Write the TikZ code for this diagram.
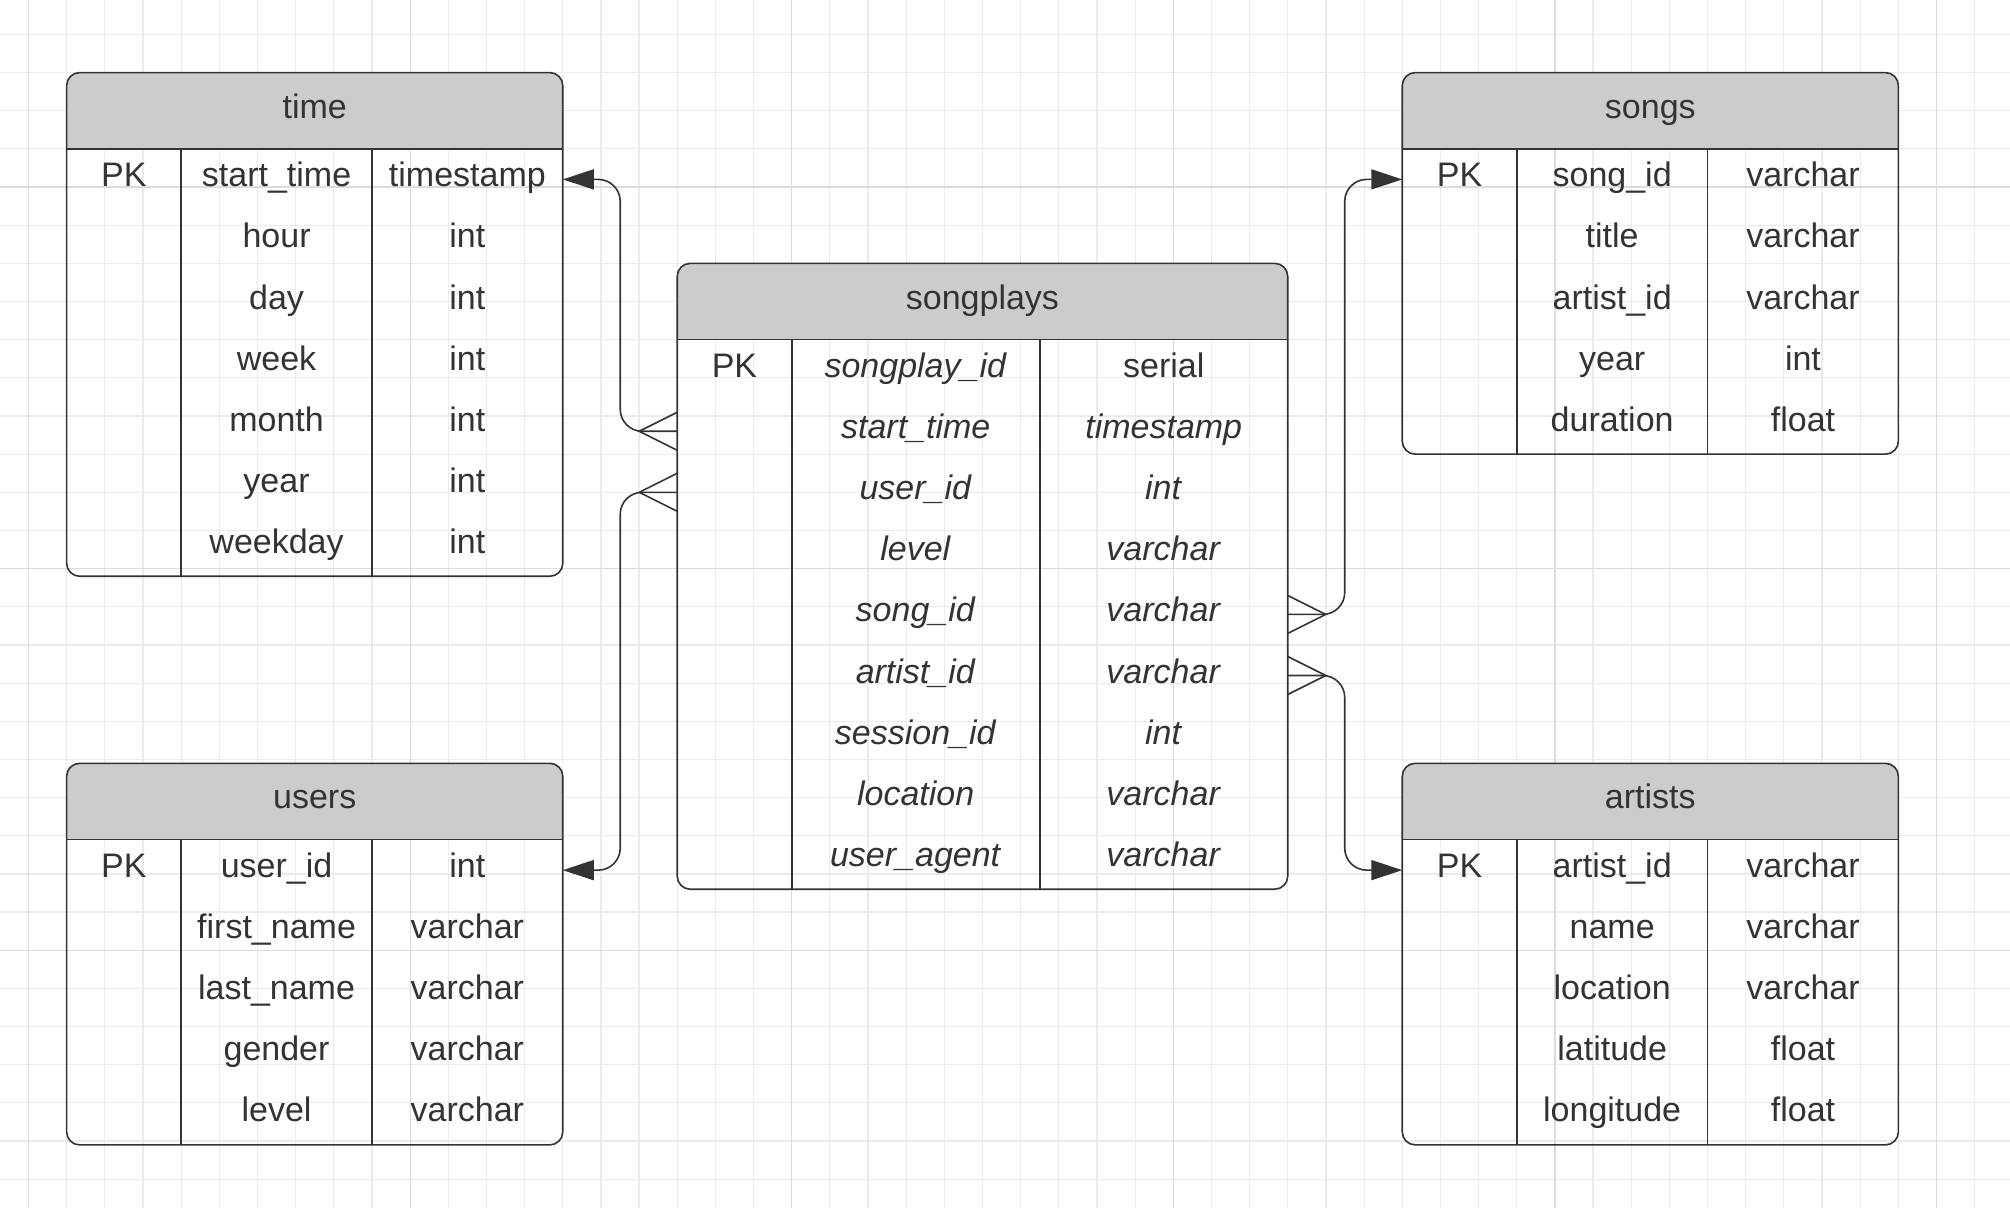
\documentclass[tikz,border=0pt]{standalone}
\usepackage{fontspec}
\setmainfont{Liberation Sans}
\usetikzlibrary{positioning,arrows.meta}

\definecolor{ink}{HTML}{333333}
\definecolor{headgray}{HTML}{CCCCCC}
\definecolor{gridminor}{HTML}{EBEBEB}
\definecolor{gridmajor}{HTML}{DCDCDC}

\tikzset{
  cell/.style={inner sep=0pt, outer sep=0pt, text=ink,
    font=\fontsize{34}{40}\selectfont, text height=24pt, text depth=9pt,
    minimum height=\rowh},
  headcell/.style={cell, minimum height=\headh},
  frame/.style={draw=ink, line width=1.6pt},
  crowline/.style={draw=ink, line width=1.6pt, line join=miter},
  link/.style={draw=ink, line width=1.6pt, rounded corners=22pt},
  fkarrow/.style={-{Triangle[length=31pt,width=20pt]}},
  gridline/.style={draw=gridminor, line width=1.2pt},
  majorline/.style={draw=gridmajor, line width=1.2pt},
}

% table: name, x, y, column widths (3), title, rows pk/field/type
\newcommand{\erdtable}[8]{%
  \pgfmathsetmacro{\tw}{#4+#5+#6}
  \begin{scope}
    \clip[rounded corners=\cornerr] (#2,#3) rectangle ++(\tw,300);
    \fill[headgray] (#2,#3) rectangle ++(\tw,\headh);
  \end{scope}
  \node[headcell, minimum width=\tw, anchor=north west] (#1-h) at (#2,#3) {#7};
  \foreach \pk/\fname/\ftype [count=\row] in {#8} {
    \pgfmathtruncatemacro{\prev}{\row-1}
    \ifnum\row=1
      \node[cell, minimum width=#4, anchor=north west] (#1-\row-1) at (#1-h.south west) {\pk};
    \else
      \node[cell, minimum width=#4, below=0pt of #1-\prev-1] (#1-\row-1) {\pk};
    \fi
    \node[cell, minimum width=#5, right=0pt of #1-\row-1] (#1-\row-2) {\fname};
    \node[cell, minimum width=#6, right=0pt of #1-\row-2] (#1-\row-3) {\ftype};
    \xdef\nrows{\row}
  }
  \draw[frame, rounded corners=\cornerr] (#1-h.north west) rectangle (#1-\nrows-3.south east);
  \draw[frame] (#1-h.south west) -- (#1-h.south east);
  \draw[frame] (#1-1-1.north east) -- (#1-\nrows-1.south east);
  \draw[frame] (#1-1-2.north east) -- (#1-\nrows-2.south east);
}

% many end: anchor on the table edge, length (sign gives side)
\newcommand{\crowsfoot}[2]{%
  \draw[crowline] ([shift={(0,-19)}]#1) -- ([shift={(#2,0)}]#1) -- ([shift={(0,19)}]#1);
}

\begin{document}
\begin{tikzpicture}[x=1pt, y=-1pt]
      \pgfmathsetmacro{\gridstep}{38.16};
      \pgfmathsetmacro{\rowh}{61.06};
      \pgfmathsetmacro{\headh}{76.3};
      \pgfmathsetmacro{\cornerr}{13};

      \useasboundingbox[fill=white] (0,0) rectangle (2010,1208);

      % background grid
      \foreach \i in {0,...,51}
        \draw[gridline] (28.5+\i*\gridstep, 0) -- (28.5+\i*\gridstep, 1208);
      \foreach \j in {0,...,30}
        \draw[gridline] (0, 34.4+\j*\gridstep) -- (2010, 34.4+\j*\gridstep);
      \foreach \i in {0,10,...,50}
        \draw[majorline] (28.5+\i*\gridstep, 0) -- (28.5+\i*\gridstep, 1208);
      \foreach \j in {4,14,24}
        \draw[majorline] (0, 34.4+\j*\gridstep) -- (2010, 34.4+\j*\gridstep);

      \erdtable{time}{66.66}{72.56}{114.5}{190.8}{190.8}{time}
        {PK/start\_time/timestamp, /hour/int, /day/int, /week/int,
         /month/int, /year/int, /weekday/int}

      \erdtable{songs}{1402.26}{72.56}{114.5}{190.8}{190.8}{songs}
        {PK/song\_id/varchar, /title/varchar, /artist\_id/varchar,
         /year/int, /duration/float}

      \erdtable{users}{66.66}{763.3}{114.5}{190.8}{190.8}{users}
        {PK/user\_id/int, /first\_name/varchar, /last\_name/varchar,
         /gender/varchar, /level/varchar}

      \erdtable{artists}{1402.26}{763.3}{114.5}{190.8}{190.8}{artists}
        {PK/artist\_id/varchar, /name/varchar, /location/varchar,
         /latitude/float, /longitude/float}

      \erdtable{songplays}{677.22}{263.36}{114.5}{248}{248}{songplays}
        {PK/\textit{songplay\_id}/serial,
         /\textit{start\_time}/\textit{timestamp},
         /\textit{user\_id}/\textit{int},
         /\textit{level}/\textit{varchar},
         /\textit{song\_id}/\textit{varchar},
         /\textit{artist\_id}/\textit{varchar},
         /\textit{session\_id}/\textit{int},
         /\textit{location}/\textit{varchar},
         /\textit{user\_agent}/\textit{varchar}}

      % foreign keys
      \draw[link, fkarrow] (songplays-2-1.west) -- ++(-57,0) |- (time-1-3.east);
      \crowsfoot{songplays-2-1.west}{-38}

      \draw[link, fkarrow] (songplays-3-1.west) -- ++(-57,0) |- (users-1-3.east);
      \crowsfoot{songplays-3-1.west}{-38}

      \draw[link, fkarrow] (songplays-5-3.east) -- ++(57,0) |- (songs-1-1.west);
      \crowsfoot{songplays-5-3.east}{38}

      \draw[link, fkarrow] (songplays-6-3.east) -- ++(57,0) |- (artists-1-1.west);
      \crowsfoot{songplays-6-3.east}{38}
    \end{tikzpicture}
\end{document}
